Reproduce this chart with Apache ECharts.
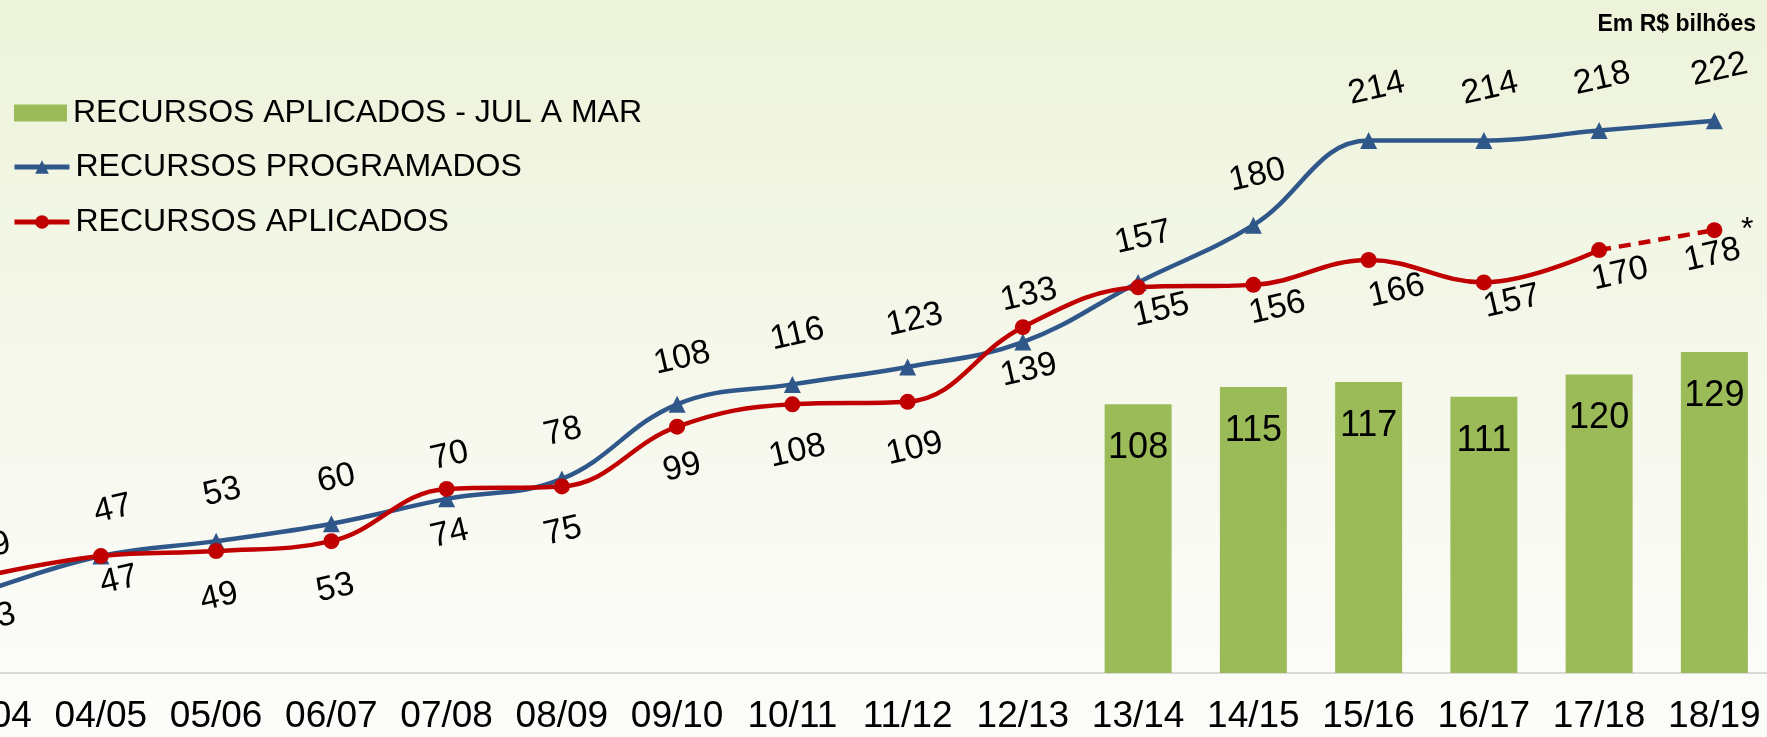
<!DOCTYPE html>
<html>
<head>
<meta charset="utf-8">
<script src="https://cdn.jsdelivr.net/npm/echarts@6/dist/echarts.min.js"></script>
<style>
  html, body { margin: 0; padding: 0; }
  #chart { width: 1767px; height: 737px; }
</style>
</head>
<body>
<div id="chart"></div>
<script>
const categories = ['03/04', '04/05', '05/06', '06/07', '07/08', '08/09', '09/10', '10/11',
  '11/12', '12/13', '13/14', '14/15', '15/16', '16/17', '17/18', '18/19']
const programados = [33, 47, 53, 60, 70, 78, 108, 116, 123, 133, 157, 180, 214, 214, 218, 222]
const aplicados = [39, 47, 49, 53, 74, 75, 99, 108, 109, 139, 155, 156, 166, 157, 170, 178]
const aplicadosJulMar = [null, null, null, null, null, null, null, null, null, null,
  108, 115, 117, 111, 120, 129]

// where each label center sits relative to its point (px, after rotation)
const progLabelPos = [[11, 27], [12, -47], [6, -49], [5, -45], [3, -43], [1, -47], [5, -46], [5, -50],
  [7, -47], [6, -47], [5, -45], [4, -50], [8, -52], [6, -52], [3, -52], [5, -51]]
const aplLabelPos = [[6, -29], [18, 24], [3, 46], [4, 47], [3, 45], [1, 45], [5, 41], [5, 47],
  [7, 47], [6, 43], [23, 23], [24, 23], [28, 31], [28, 19], [21, 24], [-2, 25]]

const NAME_BAR = 'RECURSOS APLICADOS - JUL A MAR'
const NAME_PROG = 'RECURSOS PROGRAMADOS'
const NAME_APL = 'RECURSOS APLICADOS'
const BLUE = '#30578A'
const RED = '#C00000'
const GREEN = '#9BBB59'
const ROT = 13
const FONT = 'Liberation Sans, Arial, sans-serif'

// label offset is rotated together with the text, so undo the rotation first
function labelOffset(p) {
  const t = ROT * Math.PI / 180
  const c = Math.cos(t)
  const s = Math.sin(t)
  return [p[0] * c - p[1] * s, p[0] * s + p[1] * c]
}

const lineLabel = {
  show: true,
  position: 'inside',
  rotate: ROT,
  color: '#000',
  fontFamily: FONT,
  fontSize: 34
}

const progData = programados.map((v, i) => ({
  value: v,
  label: { offset: labelOffset(progLabelPos[i]) }
}))
const last = aplicados.length - 1
const aplSolid = aplicados.map((v, i) => i < last ? {
  value: v,
  label: { offset: labelOffset(aplLabelPos[i]) }
} : '-')
const aplDashed = aplicados.map((v, i) => {
  if (i < last - 1) return '-'
  if (i === last - 1) return { value: v, symbol: 'none', label: { show: false } }
  return { value: v, label: { offset: labelOffset(aplLabelPos[i]) } }
})

const legendBase = {
  orient: 'vertical',
  left: 12,
  padding: 0,
  itemWidth: 55,
  itemHeight: 17,
  textStyle: { color: '#000', fontFamily: FONT, fontSize: 32, padding: [0, 0, 0, 1] }
}

const chart = echarts.init(document.getElementById('chart'))
chart.setOption({
  backgroundColor: {
    type: 'linear', x: 0, y: 0, x2: 0, y2: 1,
    colorStops: [
      { offset: 0, color: '#EDF3DA' },
      { offset: 0.45, color: '#F4F7E9' },
      { offset: 0.8, color: '#FAFBF5' },
      { offset: 1, color: '#FCFCFA' }
    ]
  },
  animation: false,
  title: {
    text: 'Em R$ bilhões',
    right: 6,
    top: 8,
    textStyle: { fontFamily: FONT, fontSize: 23, fontWeight: 'bold', color: '#000' }
  },
  legend: [
    Object.assign({}, legendBase, { top: 97, icon: 'rect', itemWidth: 53, left: 14, data: [NAME_BAR] }),
    Object.assign({}, legendBase, { top: 151, lineStyle: { width: 5 }, data: [NAME_PROG] }),
    Object.assign({}, legendBase, { top: 206, lineStyle: { width: 5 }, data: [NAME_APL] })
  ],
  graphic: [{
    type: 'text',
    left: 1741,
    top: 214,
    style: { text: '*', fontFamily: FONT, fontSize: 32, fill: '#000' }
  }],
  grid: { left: -72, right: -5, top: 51, bottom: 64, outerBoundsMode: 'none', containLabel: false },
  xAxis: {
    type: 'category',
    data: categories,
    axisLine: { lineStyle: { color: '#D9D9D9', width: 2 } },
    axisTick: { show: false },
    axisLabel: { color: '#000', fontFamily: FONT, fontSize: 37, margin: 25, interval: 0 }
  },
  yAxis: {
    type: 'value',
    min: 0,
    max: 250,
    show: false,
    splitLine: { show: false }
  },
  series: [
    {
      name: NAME_BAR,
      type: 'bar',
      data: aplicadosJulMar,
      barWidth: 67,
      itemStyle: { color: GREEN },
      label: {
        show: true,
        position: 'insideTop',
        distance: 26,
        color: '#000',
        fontFamily: FONT,
        fontSize: 36
      }
    },
    {
      name: NAME_PROG,
      type: 'line',
      data: progData,
      smooth: 0.4,
      symbol: 'triangle',
      symbolSize: 17,
      lineStyle: { color: BLUE, width: 4.5 },
      itemStyle: { color: BLUE },
      label: lineLabel
    },
    {
      name: NAME_APL,
      type: 'line',
      data: aplSolid,
      smooth: 0.4,
      symbol: 'circle',
      symbolSize: 16,
      lineStyle: { color: RED, width: 4.5 },
      itemStyle: { color: RED },
      label: lineLabel
    },
    {
      name: NAME_APL,
      type: 'line',
      data: aplDashed,
      symbol: 'circle',
      symbolSize: 16,
      lineStyle: { color: RED, width: 4.5, type: [12, 8] },
      itemStyle: { color: RED },
      label: lineLabel
    }
  ]
})
</script>
</body>
</html>
